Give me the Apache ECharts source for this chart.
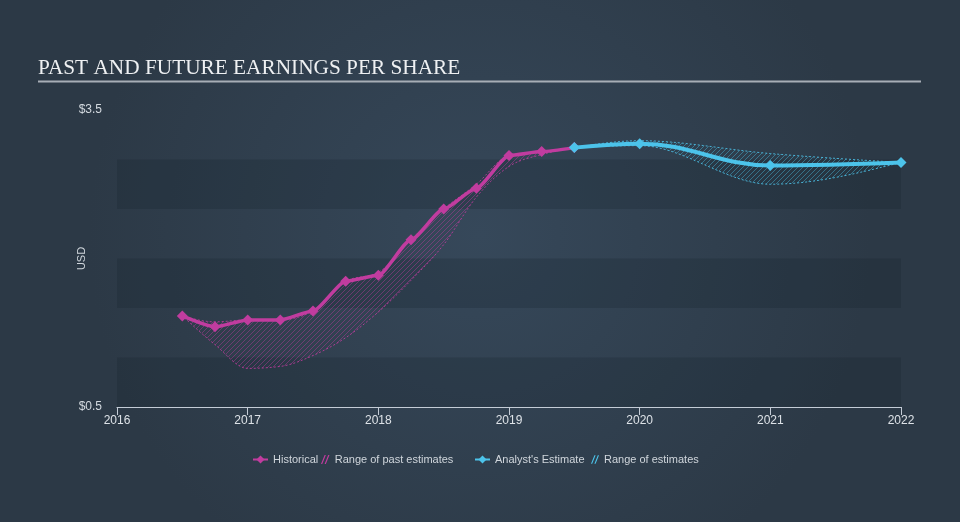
<!DOCTYPE html>
<html>
<head>
<meta charset="utf-8">
<script src="https://cdn.jsdelivr.net/npm/echarts@6/dist/echarts.min.js"></script>
<style>
html,body{margin:0;padding:0;background:#313f4d;}
#chart{width:960px;height:522px;}
</style>
</head>
<body>
<div id="chart"></div>
<script>
// ---- data ----
const histYears = [2016.5, 2016.75, 2017.0, 2017.25, 2017.5, 2017.75, 2018.0, 2018.25, 2018.5, 2018.75, 2019.0, 2019.25, 2019.5];
const histEPS   = [1.42, 1.31, 1.38, 1.38, 1.47, 1.77, 1.83, 2.19, 2.50, 2.71, 3.04, 3.08, 3.12];
const pastLow   = [1.42, 1.13, 0.89, 0.91, 1.02, 1.20, 1.46, 1.78, 2.14, 2.62, 2.93, 3.05, 3.12];
const pastHigh  = [1.42, 1.36, 1.38, 1.38, 1.47, 1.77, 1.86, 2.19, 2.50, 2.75, 3.04, 3.08, 3.12];
const estYears  = [2019.5, 2020.0, 2021.0, 2022.0];
const estEPS    = [3.12, 3.16, 2.94, 2.97];
const estLow    = [3.12, 3.14, 2.75, 2.97];
const estHigh   = [3.12, 3.19, 3.06, 2.97];
const yearTicks = ['2016','2017','2018','2019','2020','2021','2022'];
const yTickLabels = {0.5: '$0.5', 3.5: '$3.5'};

const MAG = '#c13c9f';
const CYAN = '#4cc3ea';

function hatch(color) {
  const c = document.createElement('canvas');
  c.width = 5; c.height = 5;
  const ctx = c.getContext('2d');
  ctx.strokeStyle = color;
  ctx.lineWidth = 1;
  ctx.beginPath();
  ctx.moveTo(-1, 6); ctx.lineTo(6, -1);
  ctx.moveTo(-1, 1); ctx.lineTo(1, -1);
  ctx.moveTo(4, 6); ctx.lineTo(6, 4);
  ctx.stroke();
  return c;
}

// monotone-x cubic control points for pixel points
function monoSegments(pts) {
  const n = pts.length, t = new Array(n);
  const sgn = v => v < 0 ? -1 : (v > 0 ? 1 : 0);
  for (let i = 1; i < n - 1; i++) {
    const h0 = pts[i][0] - pts[i-1][0], h1 = pts[i+1][0] - pts[i][0];
    const s0 = (pts[i][1] - pts[i-1][1]) / h0, s1 = (pts[i+1][1] - pts[i][1]) / h1;
    const p = (s0 * h1 + s1 * h0) / (h0 + h1);
    t[i] = (sgn(s0) + sgn(s1)) * Math.min(Math.abs(s0), Math.abs(s1), 0.5 * Math.abs(p)) || 0;
  }
  if (n > 2) {
    let h = pts[1][0] - pts[0][0];
    t[0] = (3 * (pts[1][1] - pts[0][1]) / h - t[1]) / 2;
    h = pts[n-1][0] - pts[n-2][0];
    t[n-1] = (3 * (pts[n-1][1] - pts[n-2][1]) / h - t[n-2]) / 2;
  } else {
    t[0] = t[1] = (pts[1][1] - pts[0][1]) / (pts[1][0] - pts[0][0]);
  }
  const segs = [];
  for (let i = 0; i < n - 1; i++) {
    const dx = (pts[i+1][0] - pts[i][0]) / 3;
    segs.push({p0: pts[i], c1: [pts[i][0] + dx, pts[i][1] + dx * t[i]], c2: [pts[i+1][0] - dx, pts[i+1][1] - dx * t[i+1]], p1: pts[i+1]});
  }
  return segs;
}

function bandSeries(name, xs, lo, hi, color, fillColor) {
  const pattern = {image: hatch(fillColor), repeat: 'repeat'};
  return {
    name: name, type: 'custom', z: 2, silent: true, clip: true,
    itemStyle: {color: color},
    data: xs.map((x, i) => [x, lo[i], hi[i]]),
    encode: {x: 0, y: [1, 2]},
    renderItem: function (params, api) {
      if (params.dataIndex !== xs.length - 1) return null;
      const up = xs.map((x, i) => api.coord([x, hi[i]]));
      const dn = xs.map((x, i) => api.coord([x, lo[i]]));
      const su = monoSegments(up), sd = monoSegments(dn);
      let d = 'M' + up[0][0] + ',' + up[0][1];
      su.forEach(s => { d += ' C' + s.c1.join(',') + ' ' + s.c2.join(',') + ' ' + s.p1.join(','); });
      d += ' L' + dn[dn.length-1][0] + ',' + dn[dn.length-1][1];
      for (let i = sd.length - 1; i >= 0; i--) {
        const s = sd[i];
        d += ' C' + s.c2.join(',') + ' ' + s.c1.join(',') + ' ' + s.p0.join(',');
      }
      d += ' Z';
      return {
        type: 'path', shape: {pathData: d},
        style: {fill: pattern, stroke: color, lineWidth: 1, lineDash: [2, 2], opacity: 0.85}
      };
    }
  };
}

const pair = (xs, ys) => xs.map((x, i) => [x, ys[i]]);

const chart = echarts.init(document.getElementById('chart'), null, {renderer: 'canvas'});
const hatchIcon = 'path://M0,10 L4,0 L5.4,0 L1.4,10 Z M4,10 L8,0 L9.4,0 L5.4,10 Z';
const legendText = {color: '#d0d6dc', fontSize: 11, fontFamily: 'Liberation Sans Narrow, Liberation Sans, Arial'};
function legendAt(left, name, w, h, extra) {
  return Object.assign({left: left, top: 449, itemWidth: w, itemHeight: h, textStyle: legendText,
    data: [Object.assign({name: name}, extra || {})]});
}

chart.setOption({
  animation: false,
  backgroundColor: {
    type: 'radial', x: 0.5, y: 0.45, r: 0.75,
    colorStops: [{offset: 0, color: '#36485a'}, {offset: 1, color: '#2c3946'}]
  },
  title: {
    text: 'PAST AND FUTURE EARNINGS PER SHARE',
    left: 33, top: 53,
    textStyle: {color: '#eef0f2', fontFamily: 'Liberation Serif, Times New Roman, serif', fontSize: 21.3, fontWeight: 'normal'}
  },
  graphic: [{
    type: 'line', shape: {x1: 38, y1: 81.5, x2: 921, y2: 81.5},
    style: {stroke: '#a7aeb6', lineWidth: 2}
  }],
  legend: [
    legendAt(247, 'Historical', 15, 10),
    legendAt(316, 'Range of past estimates', 9, 9, {icon: hatchIcon, itemStyle: {color: MAG, borderWidth: 0}}),
    legendAt(469, "Analyst's Estimate", 15, 10),
    legendAt(586, 'Range of estimates', 8, 9, {icon: hatchIcon, itemStyle: {color: CYAN, borderWidth: 0}})
  ],
  grid: {left: 117, right: 59, top: 110, bottom: 115},
  xAxis: {
    type: 'value', min: 2016, max: 2022, interval: 1,
    axisLine: {show: true, lineStyle: {color: '#c4ccd6', width: 1}},
    axisTick: {show: true, length: 8, lineStyle: {color: '#c4ccd6'}},
    axisLabel: {color: '#dde2e7', fontSize: 12, margin: 8, fontFamily: 'Liberation Sans Narrow, Liberation Sans, Arial',
      formatter: v => yearTicks[Math.round(v - 2016)] || ''},
    splitLine: {show: false}
  },
  yAxis: {
    type: 'value', min: 0.5, max: 3.5, interval: 0.5,
    name: 'USD', nameLocation: 'middle', nameGap: 30, nameRotate: 90, nameMoveOverlap: false,
    nameTextStyle: {color: '#d0d6dc', fontSize: 11, fontFamily: 'Liberation Sans, Arial'},
    axisLine: {show: false}, axisTick: {show: false},
    axisLabel: {color: '#d4dae0', fontSize: 12, margin: 15, fontFamily: 'Liberation Sans, Arial',
      formatter: v => yTickLabels[Math.round(v * 10) / 10] || ''},
    splitLine: {show: false},
    splitArea: {show: true, areaStyle: {color: ['rgba(20,30,40,0.22)', 'rgba(0,0,0,0)']}}
  },
  series: [
    bandSeries('Range of past estimates', histYears, pastLow, pastHigh, MAG, 'rgba(193,60,159,0.5)'),
    bandSeries('Range of estimates', estYears, estLow, estHigh, CYAN, 'rgba(76,195,234,0.5)'),
    {
      name: 'Historical', type: 'line', smooth: 0.2, smoothMonotone: 'x',
      data: pair(histYears, histEPS),
      symbol: 'diamond', symbolSize: 11,
      lineStyle: {color: MAG, width: 3.5},
      itemStyle: {color: MAG}, z: 4
    },
    {
      name: "Analyst's Estimate", type: 'line', smooth: 0.4, smoothMonotone: 'x',
      data: pair(estYears, estEPS),
      symbol: 'diamond', symbolSize: 11,
      lineStyle: {color: CYAN, width: 4},
      itemStyle: {color: CYAN}, z: 5
    }
  ]
});
</script>
</body>
</html>
